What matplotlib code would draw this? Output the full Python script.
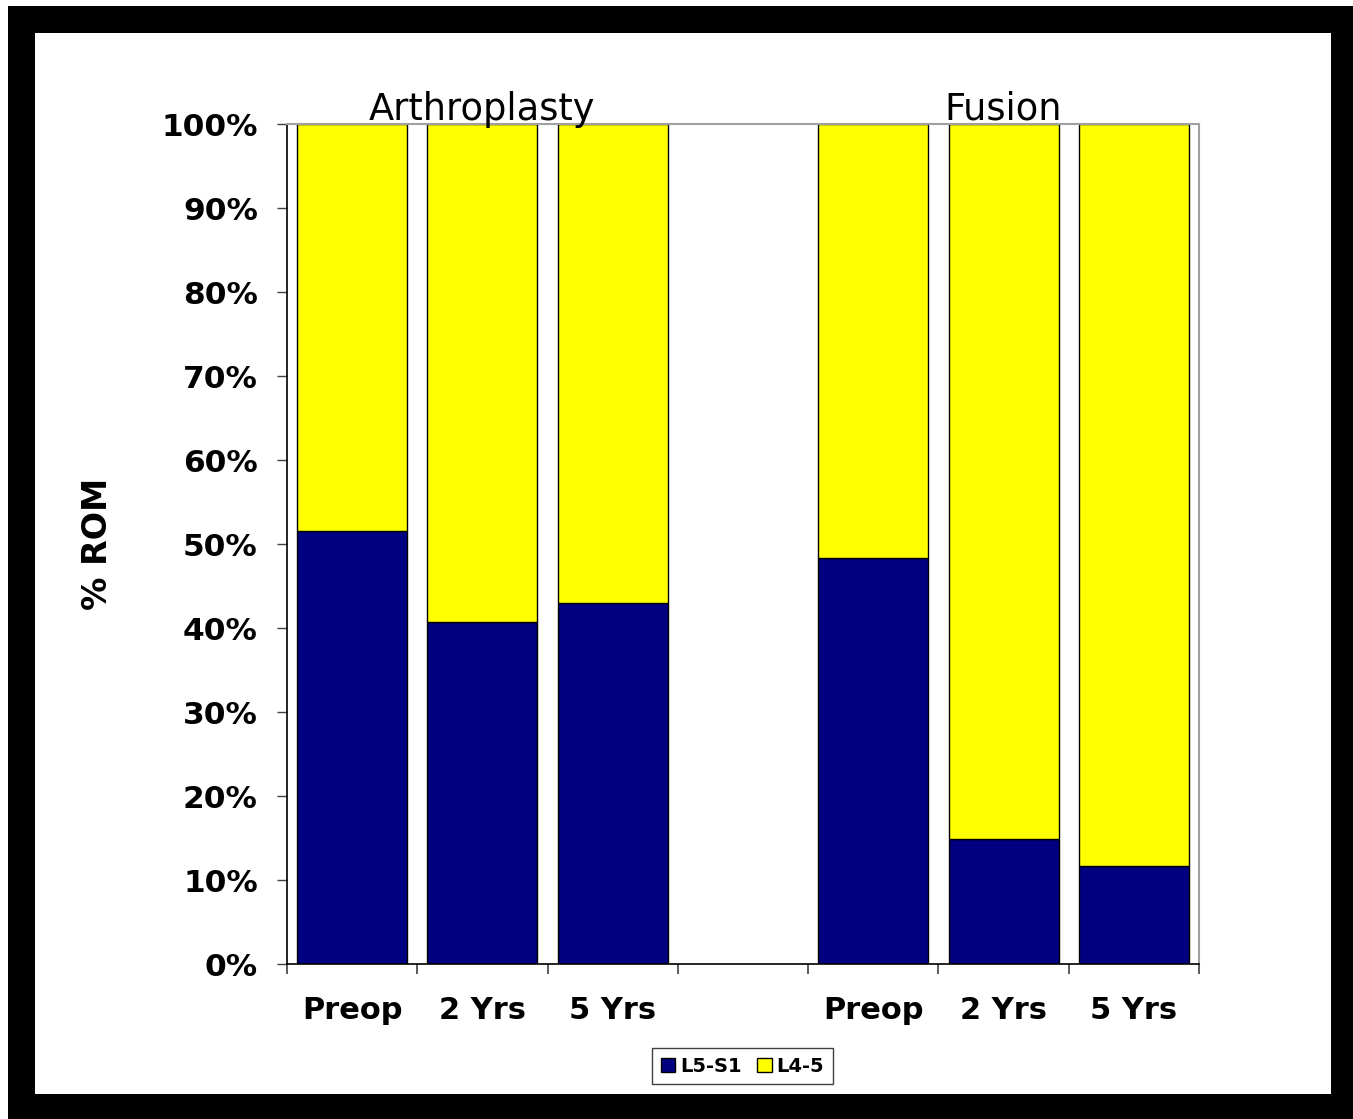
import matplotlib
matplotlib.use("Agg")
import matplotlib.pyplot as plt
from matplotlib.patches import Rectangle, Patch
from matplotlib.ticker import FixedLocator, FuncFormatter
import matplotlib.transforms as mtransforms
import numpy as np

# Share of range of motion per level, by group and follow-up time
categories = ["Preop", "2 Yrs", "5 Yrs", "", "Preop", "2 Yrs", "5 Yrs"]
l5s1 = [51.5, 40.7, 43.0, np.nan, 48.3, 14.9, 11.7]
l45 = [48.5, 59.3, 57.0, np.nan, 51.7, 85.1, 88.3]
groups = ["Arthroplasty", "Fusion"]
group_centers = [1, 5]
series_names = ["L5-S1", "L4-5"]
series_colors = ["#000080", "#FFFF00"]
y_ticks = [0, 10, 20, 30, 40, 50, 60, 70, 80, 90, 100]

W, H = 1353, 1119
fig = plt.figure(figsize=(W / 100, H / 100), dpi=100)
fig.patch.set_facecolor("white")

# Black picture frame with a white panel inside
fig.patches.append(Rectangle((8 / W, 0), 1 - 8 / W, 1 - 6 / H,
                             transform=fig.transFigure, facecolor="black",
                             edgecolor="none", zorder=-10))
fig.patches.append(Rectangle((35 / W, 1 - 1094 / H), (1331 - 35) / W, (1094 - 33) / H,
                             transform=fig.transFigure, facecolor="white",
                             edgecolor="none", zorder=-9))

ax = fig.add_axes([287 / W, 1 - 964 / H, (1199 - 287) / W, (964 - 124) / H])
ax.set_facecolor("none")

x = np.arange(len(categories))
bw = 0.845
ax.bar(x, l5s1, width=bw, color=series_colors[0], edgecolor="black", linewidth=1.0,
       label=series_names[0], zorder=2)
ax.bar(x, l45, width=bw, bottom=l5s1, color=series_colors[1], edgecolor="black",
       linewidth=1.0, label=series_names[1], zorder=2)

ax.set_xlim(-0.5, len(categories) - 0.5)
ax.set_ylim(0, 100)

# Tick marks on category boundaries, labels at category centres
ax.xaxis.set_major_locator(FixedLocator(np.arange(-0.5, len(categories), 1.0)))
ax.xaxis.set_major_formatter(FuncFormatter(lambda v, p: ""))
ax.xaxis.set_minor_locator(FixedLocator(x))
ax.set_xticklabels(categories, minor=True)
ax.tick_params(axis="x", which="major", direction="out", length=7, width=1.2,
               color="#404040")
ax.tick_params(axis="x", which="minor", length=0, pad=23, labelsize=22)
for lbl in ax.get_xticklabels(minor=True):
    lbl.set_fontweight("bold")

ax.yaxis.set_major_locator(FixedLocator(y_ticks))
ax.yaxis.set_major_formatter(FuncFormatter(lambda v, p: f"{int(v)}%"))
ax.tick_params(axis="y", direction="out", length=7, width=1.0, color="#404040",
               labelsize=22.5, pad=14)
for lbl in ax.get_yticklabels():
    lbl.set_fontweight("bold")

ax.set_ylabel("% ROM", fontsize=24, fontweight="bold", labelpad=34)

for side in ["left", "bottom"]:
    ax.spines[side].set_color("black")
    ax.spines[side].set_linewidth(1.2)
for side in ["top", "right"]:
    ax.spines[side].set_color("#a0a0a0")
    ax.spines[side].set_linewidth(1.5)

# Group titles above the bars
trans = mtransforms.blended_transform_factory(ax.transData, ax.transAxes)
for name, cx in zip(groups, group_centers):
    ax.text(cx, 1.005, name, transform=trans, ha="center", va="baseline",
            fontsize=26.5, color="black")

handles = [Patch(facecolor=c, edgecolor="black", linewidth=1.0) for c in series_colors]
leg = fig.legend(handles, series_names, loc="center",
                 bbox_to_anchor=(742.5 / W, 1 - 1066 / H), ncol=2,
                 prop={"weight": "bold", "size": 14},
                 handlelength=0.75, handleheight=0.75, handletextpad=0.25,
                 columnspacing=0.8, borderpad=0.45, fancybox=False,
                 framealpha=1, edgecolor="#404040")
leg.get_frame().set_linewidth(1.0)

fig.savefig("out.png", dpi=100, facecolor="white")
